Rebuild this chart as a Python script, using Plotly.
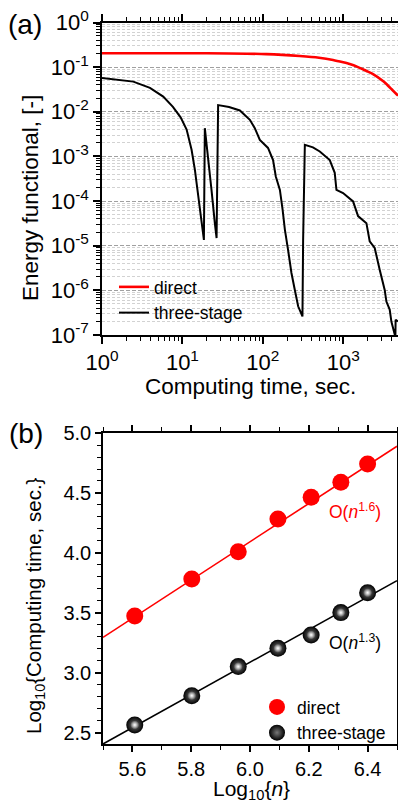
import plotly.graph_objects as go

# ---------------- (a) energy functional vs computing time ----------------
t_direct = [1, 20, 111, 288, 500, 747, 1000, 1205, 1459, 1942, 2346, 3119, 3441, 4000, 4580, 4800]
E_direct = [0.205, 0.204, 0.196, 0.178, 0.163, 0.145, 0.128, 0.117, 0.104, 0.082, 0.070,
            0.049, 0.042, 0.032, 0.025, 0.023]

t_three = [1, 2.45, 3.95, 5.77, 7.62, 9.5, 11.28, 13.0, 14.3, 15.7, 17.3, 18.5,
           19.0, 20.9, 23.0, 25.3, 26.6,
           27.8, 38, 51.8, 69.0, 79.5, 91.8, 116, 134, 145, 163, 176, 188, 206, 227, 250, 275, 311,
           317, 333, 420, 511, 680, 784, 823, 995, 1326, 1529, 1942, 2133, 2462, 2840, 3278,
           3441, 3782, 3969, 4363, 4450, 4480, 4800]
E_three = [0.0573, 0.0474, 0.0343, 0.0219, 0.0129, 7.5e-3, 4.0e-3, 1.41e-3, 5.0e-4, 1.26e-4, 3.2e-5, 1.35e-5,
           4.3e-3, 1.0e-3, 1.78e-4, 3.2e-5, 1.48e-5,
           1.41e-2, 1.28e-2, 1.07e-2, 6.6e-3, 4.3e-3, 2.34e-3, 1.55e-3, 8.3e-4, 3.55e-4, 1.78e-4,
           6.5e-5, 2.3e-5, 8.1e-6, 2.45e-6, 1.02e-6, 4.4e-7, 2.6e-7,
           1.35e-5, 1.82e-3, 1.6e-3, 1.29e-3, 8.3e-4, 4.3e-4, 1.78e-4, 1.51e-4, 9.8e-5, 4.6e-5,
           3.2e-5, 1.26e-5, 8.9e-6, 2.9e-6, 1.02e-6, 5.6e-7, 3.7e-7, 2.0e-7, 1.1e-7, 9e-8,
           2.2e-7, 2.0e-7]

# ---------------- (b) scaling ----------------
log_n = [5.608, 5.802, 5.960, 6.095, 6.208, 6.309, 6.400]
logt_direct = [3.475, 3.783, 4.011, 4.283, 4.464, 4.589, 4.742]
logt_three = [2.567, 2.811, 3.053, 3.206, 3.317, 3.503, 3.669]
fit_log_n = [5.5, 6.5]
fit_direct = [3.297, 4.89]
fit_three = [2.408, 3.77]

W, H = 398, 809
FONT = "Liberation Sans, Arial, sans-serif"


def px(x):
    return x / W


def py(y):
    return 1 - y / H


fig = go.Figure()

fig.add_trace(go.Scatter(x=t_direct, y=E_direct, mode="lines", name="direct",
                         line=dict(color="#ff0000", width=2.6, shape="spline", smoothing=0.6),
                         xaxis="x", yaxis="y", legend="legend"))
fig.add_trace(go.Scatter(x=t_three, y=E_three, mode="lines", name="three-stage",
                         line=dict(color="black", width=2),
                         xaxis="x", yaxis="y", legend="legend"))

fig.add_trace(go.Scatter(x=fit_log_n, y=fit_direct, mode="lines", showlegend=False,
                         line=dict(color="#ff0000", width=1.6), xaxis="x2", yaxis="y2"))
fig.add_trace(go.Scatter(x=fit_log_n, y=fit_three, mode="lines", showlegend=False,
                         line=dict(color="black", width=1.6), xaxis="x2", yaxis="y2"))
fig.add_trace(go.Scatter(x=log_n, y=logt_direct, mode="markers", name="direct",
                         marker=dict(color="#ff0000", size=17, line=dict(width=0)),
                         xaxis="x2", yaxis="y2", legend="legend2"))
fig.add_trace(go.Scatter(x=log_n, y=logt_three, mode="markers", name="three-stage",
                         marker=dict(color="black", size=17, line=dict(width=0),
                                     gradient=dict(type="radial", color="#777777")),
                         xaxis="x2", yaxis="y2", legend="legend2"))
fig.add_trace(go.Scatter(x=log_n, y=logt_three, mode="markers", showlegend=False, hoverinfo="skip",
                         marker=dict(color="rgba(255,255,255,0)", size=9, line=dict(width=0),
                                     gradient=dict(type="radial", color="white")),
                         xaxis="x2", yaxis="y2"))

major_y = [10 ** k for k in range(-7, 1)]
minor_y = [m * 10 ** k for k in range(-7, 0) for m in range(2, 10)]
major_x = [1, 10, 100, 1000]
minor_x = [m * 10 ** k for k in range(0, 4) for m in range(2, 10)]

axis_common = dict(showline=True, linecolor="black", linewidth=1.5, ticks="outside",
                   tickcolor="black", tickwidth=1.5, zeroline=False, automargin=False,
                   tickfont=dict(family=FONT, size=22, color="black"))

fig.update_layout(
    width=W, height=H, margin=dict(l=0, r=0, t=0, b=0, autoexpand=False),
    paper_bgcolor="white", plot_bgcolor="white",
    font=dict(family=FONT, color="black"),
    xaxis=dict(axis_common, domain=[px(102), 1.0], anchor="y", type="log",
               range=[0, 3.681], tickmode="array", tickvals=major_x,
               ticktext=["10<sup>%d</sup>" % k for k in range(0, 4)],
               ticklen=7, mirror="ticks", showgrid=False,
               minor=dict(tickmode="array", tickvals=minor_x, ticks="outside", ticklen=4,
                          tickcolor="black", tickwidth=1, showgrid=False)),
    yaxis=dict(axis_common, domain=[py(335), py(22.5)], anchor="x", type="log",
               range=[-7, 0], tickmode="array", tickvals=major_y,
               ticktext=["10<sup>%d</sup>" % k for k in range(-7, 1)],
               ticklen=7, mirror=False, showgrid=True, gridcolor="#a0a0a0",
               gridwidth=1, griddash="4px,2px",
               minor=dict(tickmode="array", tickvals=minor_y, ticks="outside", ticklen=4,
                          tickcolor="black", tickwidth=1, showgrid=True,
                          gridcolor="#d2d2d2", gridwidth=1, griddash="3px,2px")),
    xaxis2=dict(axis_common, domain=[px(103), px(397)], anchor="y2", range=[5.5, 6.5],
                tickmode="linear", tick0=5.6, dtick=0.2, tickformat=".1f", ticklen=6,
                mirror="ticks", showgrid=False, tickfont=dict(family=FONT, size=20, color="black"),
                minor=dict(tick0=5.5, dtick=0.1, ticks="outside", ticklen=4,
                           tickcolor="black", tickwidth=1.2)),
    yaxis2=dict(axis_common, domain=[py(744), py(433)], anchor="x2", range=[2.408, 5.0],
                tickmode="linear", tick0=2.5, dtick=0.5, tickformat=".1f", ticklen=6,
                mirror="ticks", showgrid=False, tickfont=dict(family=FONT, size=20, color="black"),
                minor=dict(tick0=2.5, dtick=0.1, ticks="outside", ticklen=4,
                           tickcolor="black", tickwidth=1.2)),
    legend=dict(x=px(114), y=py(269), xanchor="left", yanchor="top",
                bgcolor="rgba(0,0,0,0)", font=dict(family=FONT, size=17.5, color="black"),
                tracegroupgap=0, itemwidth=30),
    legend2=dict(x=px(257), y=py(689), xanchor="left", yanchor="top",
                 bgcolor="rgba(0,0,0,0)", font=dict(family=FONT, size=17.5, color="black"),
                 tracegroupgap=0, itemwidth=30),
    showlegend=True,
)

annotations = [
    dict(text="(a)", x=px(25), y=py(24), font=dict(size=28)),
    dict(text="(b)", x=px(26), y=py(433), font=dict(size=28)),
    dict(text="Energy functional, [-]", x=px(31), y=py(198), textangle=-90, font=dict(size=22.5)),
    dict(text="Computing time, sec.", x=px(250), y=py(386), font=dict(size=22.5)),
    dict(text="Log<sub>10</sub>{Computing time, sec.}", x=px(35), y=py(606), textangle=-90,
         font=dict(size=20.5)),
    dict(text="Log<sub>10</sub>{<i>n</i>}", x=px(251), y=py(790), font=dict(size=21)),
    dict(text="O(<i>n</i><sup>1.6</sup>)", x=px(355), y=py(511), font=dict(size=17.5, color="#ff0000")),
    dict(text="O(<i>n</i><sup>1.3</sup>)", x=px(355), y=py(642), font=dict(size=17.5, color="black")),
]
for a in annotations:
    a.setdefault("font", {})
    a["font"].setdefault("color", "black")
    a["font"]["family"] = FONT
    fig.add_annotation(xref="paper", yref="paper", showarrow=False,
                       xanchor="center", yanchor="middle", **a)

fig.write_html("out.html", config={"displayModeBar": False},
               post_script="document.body.style.margin='0';document.body.style.padding='0';")
